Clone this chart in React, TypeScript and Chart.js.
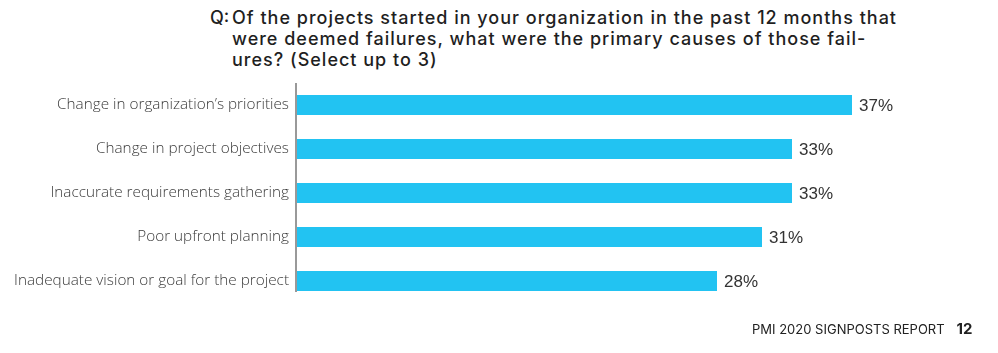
import React, { useEffect, useRef } from "react";
import { Chart, registerables } from "chart.js";

Chart.register(...registerables);

const categories = [
  "Change in organization’s priorities",
  "Change in project objectives",
  "Inaccurate requirements gathering",
  "Poor upfront planning",
  "Inadequate vision or goal for the project",
];
const values = [37, 33, 33, 31, 28];
const titleLines = [
  "Of the projects started in your organization in the past 12 months that",
  "were deemed failures, what were the primary causes of those fail-",
  "ures? (Select up to 3)",
];
const footerText = "PMI 2020 SIGNPOSTS REPORT";
const pageNumber = "12";

export default function App() {
  const ref = useRef<HTMLCanvasElement | null>(null);

  useEffect(() => {
    if (!ref.current) return;
    const labelPlugin = {
      id: "valueLabels",
      afterDatasetsDraw(chart: any) {
        const ctx = chart.ctx;
        const meta = chart.getDatasetMeta(0);
        ctx.save();
        ctx.font = "17px 'Liberation Sans', Arial, sans-serif";
        ctx.fillStyle = "#333333";
        ctx.textAlign = "left";
        ctx.textBaseline = "middle";
        meta.data.forEach((bar: any, i: number) => {
          ctx.fillText(values[i] + "%", bar.x + 7, bar.y + 1);
        });
        const last = meta.data[meta.data.length - 1];
        const first = meta.data[0];
        ctx.strokeStyle = "#555555";
        ctx.lineWidth = 1.2;
        ctx.beginPath();
        ctx.moveTo(chart.chartArea.left - 1, first.y - 22);
        ctx.lineTo(chart.chartArea.left - 1, last.y + 11);
        ctx.stroke();
        ctx.restore();
      },
    };
    const chart = new Chart(ref.current, {
      type: "bar",
      data: {
        labels: categories,
        datasets: [
          {
            data: values,
            backgroundColor: "#22C3F2",
            borderWidth: 0,
            categoryPercentage: 1,
            barPercentage: 0.45,
          },
        ],
      },
      options: {
        indexAxis: "y",
        animation: false,
        responsive: false,
        maintainAspectRatio: false,
        layout: { padding: { top: 83, bottom: 50, right: 101, left: 0 } },
        plugins: {
          legend: { display: false },
          tooltip: { enabled: false },
          title: { display: false },
        },
        scales: {
          x: {
            min: 0,
            max: 40,
            display: false,
          },
          y: {
            grid: { display: false, drawTicks: false },
            border: { display: false },
            ticks: {
              padding: 8,
              color: "#3a3a3a",
              font: { family: "'Open Sans', Lato, sans-serif", size: 15.3, weight: "300" as any },
            },
            afterFit(scale: any) {
              scale.width = 297;
            },
          },
        },
      },
      plugins: [labelPlugin],
    });
    return () => chart.destroy();
  }, []);

  return (
    <div style={{ position: "absolute", left: 0, top: 0, width: 998, height: 353, background: "#fff", overflow: "hidden" }}>
      <div
        style={{
          position: "absolute",
          left: 210,
          top: 7,
          width: 780,
          fontFamily: "Inter, 'Noto Sans', sans-serif",
          fontSize: 18,
          fontWeight: 500,
          lineHeight: "21px",
          color: "#1f1f1f",
          letterSpacing: "1px",
        }}
      >
        {titleLines.map((line, i) => (
          <div key={i} style={{ display: "flex", whiteSpace: "nowrap" }}>
            <span style={{ display: "inline-block", width: 22, letterSpacing: 0 }}>{i === 0 ? "Q:" : ""}</span>
            <span>{line}</span>
          </div>
        ))}
      </div>
      <canvas ref={ref} width={998} height={353} style={{ position: "absolute", left: 0, top: 0, width: 998, height: 353 }} />
      <div
        style={{
          position: "absolute",
          left: 752,
          top: 319,
          fontFamily: "Inter, 'Noto Sans', sans-serif",
          fontSize: 13,
          color: "#222",
          whiteSpace: "nowrap",
          display: "flex",
          alignItems: "baseline",
        }}
      >
        <span>{footerText}</span>
        <span style={{ fontWeight: 700, fontSize: 15, marginLeft: 12 }}>{pageNumber}</span>
      </div>
    </div>
  );
}
